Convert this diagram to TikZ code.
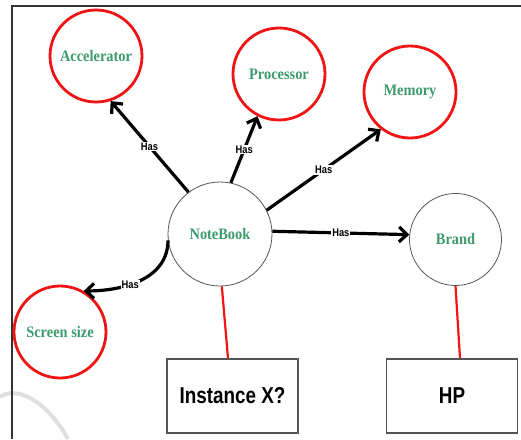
\documentclass[tikz,border=0pt]{standalone}
\usepackage{fontspec,graphicx}
\setmainfont{Liberation Serif}
\newfontfamily\labelfont{Liberation Sans}
\usetikzlibrary{arrows.meta}
\definecolor{concept}{HTML}{3C9A6B}
\definecolor{redline}{HTML}{F01414}
\definecolor{framegray}{HTML}{333333}
\definecolor{edgegray}{HTML}{555555}
\newcommand{\squeeze}[2]{\scalebox{#1}[1]{#2}}

\begin{document}
\begin{tikzpicture}[x=1pt,y=-1pt,every node/.style={inner sep=0pt},
  part/.style={circle,draw=redline,line width=2.8pt,minimum size=92pt,text=concept,font=\fontsize{16}{18}\selectfont\bfseries},
  whole/.style={circle,draw=edgegray,line width=.8pt,minimum size=92pt,text=concept,font=\fontsize{16}{18}\selectfont\bfseries},
  inst/.style={draw=edgegray,line width=1.2pt,minimum width=131pt,minimum height=74pt,font=\labelfont\fontsize{23}{26}\selectfont\bfseries},
  has/.style={-{Straight Barb[length=8pt,width=15pt]},line width=3.2pt},
  haslabel/.style={fill=white,inner sep=1pt,font=\labelfont\fontsize{11}{12}\selectfont\bfseries}]
\useasboundingbox (0,0) rectangle (521,439);
\draw[gray!25,line width=4pt] (0,397) .. controls (15,386) and (45,398) .. (68,439);
\draw[framegray,line width=1.4pt] (521,6)--(12,6)--(12,439);
\node[part] (acc) at (96,56) {\squeeze{.9}{Accelerator}};
\node[part] (proc) at (279,74) {\squeeze{.9}{Processor}};
\node[part] (mem) at (410,92) {\squeeze{.9}{Memory}};
\node[part] (scr) at (60,332) {\squeeze{.9}{Screen size}};
\node[whole,minimum size=104pt] (nb) at (220,234) {\squeeze{.9}{NoteBook}};
\node[whole] (brand) at (455.5,239.5) {\squeeze{.9}{Brand}};
\node[inst] (x) at (232.5,396) {\squeeze{.82}{Instance X?}};
\node[inst] (hp) at (452,396) {\squeeze{.82}{HP}};
\draw[has] (nb.127) -- node[haslabel]{\squeeze{.85}{Has}} (acc.-72);
\draw[has] (nb.78) -- node[haslabel]{\squeeze{.85}{Has}} (proc.-117);
\draw[has] (nb.27) -- node[haslabel]{\squeeze{.85}{Has}} (mem.-128);
\draw[has] (nb.3) -- node[haslabel]{\squeeze{.85}{Has}} (brand.174);
\draw[has] (nb.187) .. controls +(0,39) and +(39,0) .. node[pos=.6,haslabel]{\squeeze{.85}{Has}} (scr.60);
\draw[redline,line width=2.2pt] (nb.-88) -- ([xshift=-4.5pt]x.north);
\draw[redline,line width=2.2pt] (brand.-90) -- ([xshift=8pt]hp.north);
\end{tikzpicture}
\end{document}
